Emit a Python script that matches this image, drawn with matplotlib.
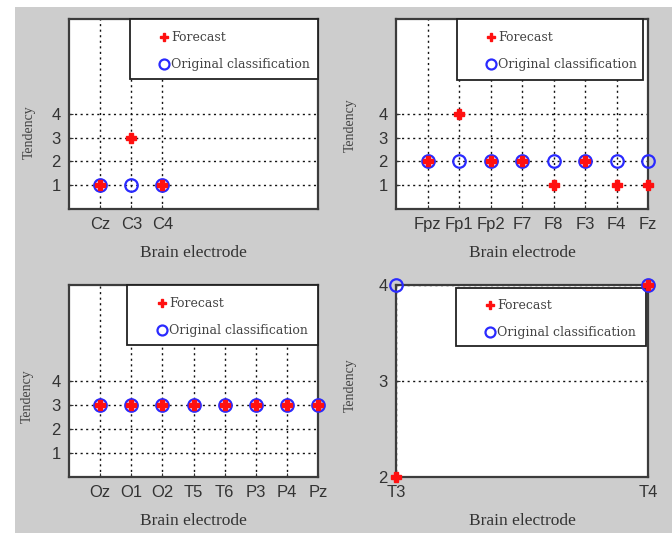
import matplotlib.pyplot as plt
from matplotlib.patches import Rectangle

# ---- data ----
p1_labels = ['Cz', 'C3', 'C4']
p1_forecast = [1, 3, 1]
p1_original = [1, 1, 1]

p2_labels = ['Fpz', 'Fp1', 'Fp2', 'F7', 'F8', 'F3', 'F4', 'Fz']
p2_forecast = [2, 4, 2, 2, 1, 2, 1, 1]
p2_original = [2, 2, 2, 2, 2, 2, 2, 2]

p3_labels = ['Oz', 'O1', 'O2', 'T5', 'T6', 'P3', 'P4', 'Pz']
p3_forecast = [3, 3, 3, 3, 3, 3, 3, 3]
p3_original = [3, 3, 3, 3, 3, 3, 3, 3]

p4_labels = ['T3', 'T4']
p4_forecast = [2, 4]
p4_original = [4, 4]

xlabel = 'Brain electrode'
ylabel = 'Tendency'
leg_labels = ['Forecast', 'Original classification']

W, H = 672, 533
fig = plt.figure(figsize=(W / 100, H / 100), dpi=100)
fig.patch.set_facecolor('#cdcdcd')
# white strips at left / top of the screenshot
fig.add_artist(Rectangle((0, 0), 15 / W, 1, transform=fig.transFigure, fc='white', ec='none', zorder=-1))
fig.add_artist(Rectangle((0, 1 - 7 / H), 1, 7 / H, transform=fig.transFigure, fc='white', ec='none', zorder=-1))

panels = [
    # (rect, labels, forecast, original, xlim, ylim, yticks, legbox, legpos, ylabel pos)
    ([0.1027, 0.6079, 0.3705, 0.3565], p1_labels, p1_forecast, p1_original,
     (0, 8), (0, 8), [1, 2, 3, 4], (0.245, 0.684, 0.755, 0.316), (0.363, 0.935), (-0.135, 0.405)),
    ([0.5893, 0.6079, 0.3750, 0.3565], p2_labels, p2_forecast, p2_original,
     (0, 8), (0, 8), [1, 2, 3, 4], (0.242, 0.680, 0.738, 0.320), (0.358, 0.935), (-0.155, 0.44)),
    ([0.1027, 0.1051, 0.3705, 0.3602], p3_labels, p3_forecast, p3_original,
     (0, 8), (0, 8), [1, 2, 3, 4], (0.233, 0.690, 0.767, 0.310), (0.355, 0.935), (-0.14, 0.42)),
    ([0.5893, 0.1051, 0.3750, 0.3602], p4_labels, p4_forecast, p4_original,
     (1, 2), (2, 4), [2, 3, 4], (0.238, 0.682, 0.754, 0.302), (0.355, 0.925), (-0.155, 0.48)),
]

for rect, labels, fc, orig, xlim, ylim, yticks, legbox, legpos, ylpos in panels:
    ax = fig.add_axes(rect)
    ax.set_facecolor('white')
    start = xlim[0] if len(labels) == 2 else 1
    x = list(range(start, start + len(labels)))
    h_orig, = ax.plot(x, orig, linestyle='none', marker='o', ms=9, mfc='none',
                      mec='#2a2aff', mew=1.6, clip_on=False, zorder=6)
    h_fc, = ax.plot(x, fc, linestyle='none', marker='P', ms=7, color='#ff1010',
                    mec='#ff1010', clip_on=False, zorder=7)

    ax.set_xlim(*xlim)
    ax.set_ylim(*ylim)
    ax.set_xticks(x)
    ax.set_xticklabels(labels)
    ax.set_yticks(yticks)
    ax.set_axisbelow(True)
    ax.grid(True, color='#111111', linestyle=(0, (1.5, 2.5)), linewidth=1.0)
    ax.tick_params(direction='in', length=3, colors='#333333', labelsize=12, pad=6)
    for lab in ax.get_xticklabels() + ax.get_yticklabels():
        lab.set_fontfamily('Liberation Sans')
    for sp in ax.spines.values():
        sp.set_color('#3c3c3c')
        sp.set_linewidth(1.6)

    ax.set_xlabel(xlabel, fontsize=12.5, family='Liberation Serif', color='#333333', labelpad=9)
    ax.set_ylabel(ylabel, fontsize=10, family='Liberation Serif', color='#444444')
    ax.yaxis.set_label_coords(*ylpos)

    # legend box (MATLAB style) and entries
    ax.add_patch(Rectangle(legbox[:2], legbox[2], legbox[3], transform=ax.transAxes,
                           fc='white', ec='#222222', lw=1.3, zorder=3, clip_on=False))
    leg = ax.legend([h_fc, h_orig], leg_labels, loc='upper left', bbox_to_anchor=legpos,
                    frameon=False, handlelength=0.7, handletextpad=0.25, borderpad=0,
                    borderaxespad=0, labelspacing=1.1, markerscale=0.8,
                    prop={'family': 'DejaVu Serif', 'size': 9})
    for t in leg.get_texts():
        t.set_color('#444444')
    leg.set_zorder(8)

fig.savefig('out.png', dpi=100)
